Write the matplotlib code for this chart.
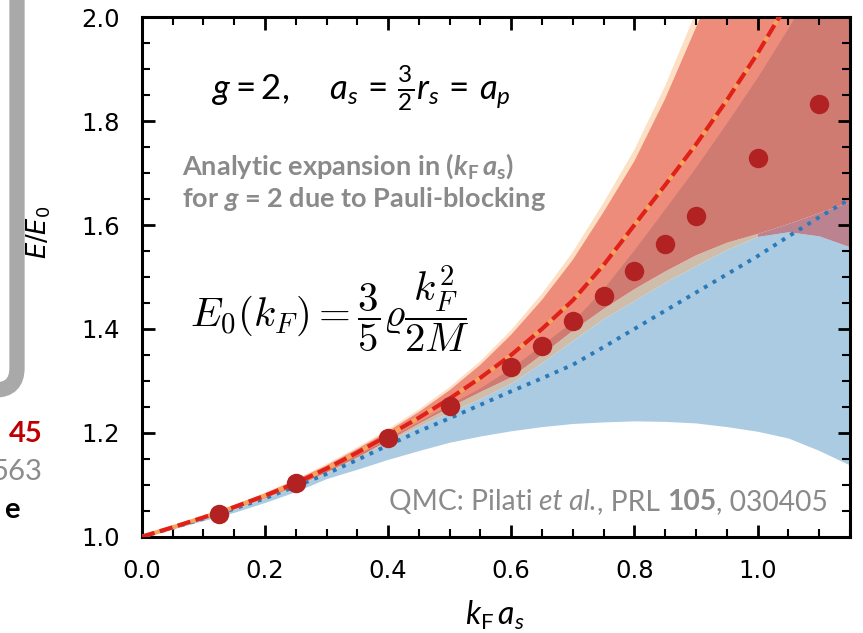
import numpy as np
import matplotlib
matplotlib.use('Agg')
import matplotlib.pyplot as plt
from matplotlib.patches import FancyBboxPatch
from matplotlib.transforms import IdentityTransform
from matplotlib.ticker import MultipleLocator

plt.rcParams['mathtext.fontset'] = 'custom'
plt.rcParams['mathtext.rm'] = 'Lato'
plt.rcParams['mathtext.it'] = 'Lato:italic'
plt.rcParams['mathtext.bf'] = 'Lato:bold'
plt.rcParams['mathtext.bfit'] = 'Lato:italic:bold'

kfa = [0.00, 0.05, 0.10, 0.15, 0.20, 0.25, 0.30, 0.35, 0.40, 0.45, 0.50, 0.55,
       0.60, 0.65, 0.70, 0.75, 0.80, 0.85, 0.90, 0.95, 1.00, 1.05, 1.10, 1.15]

# analytic expansion (central dashed curve)
e_central = [1.000, 1.018, 1.037, 1.057, 1.079, 1.103, 1.131, 1.162, 1.195, 1.229, 1.266, 1.306,
             1.350, 1.400, 1.455, 1.523, 1.600, 1.677, 1.755, 1.840, 1.930, 2.030, 2.130, 2.240]
# orange band upper edge
e_orange_hi = [1.000, 1.019, 1.039, 1.061, 1.085, 1.111, 1.140, 1.172, 1.207, 1.245, 1.288, 1.338,
               1.398, 1.468, 1.548, 1.643, 1.745, 1.868, 2.010, 2.160, 2.320, 2.480, 2.640, 2.800]
# red band upper edge
e_red_hi = [1.000, 1.019, 1.038, 1.060, 1.083, 1.109, 1.137, 1.169, 1.203, 1.240, 1.282, 1.331,
            1.389, 1.456, 1.533, 1.625, 1.723, 1.843, 1.980, 2.120, 2.280, 2.440, 2.600, 2.760]
# second red band upper edge
e_red2_hi = [1.000, 1.017, 1.036, 1.056, 1.077, 1.101, 1.128, 1.158, 1.190, 1.222, 1.255, 1.287,
             1.325, 1.370, 1.415, 1.478, 1.553, 1.632, 1.712, 1.797, 1.885, 1.980, 2.080, 2.180]
# lower edge of the red bands
e_red_lo = [1.000, 1.016, 1.035, 1.054, 1.075, 1.098, 1.125, 1.154, 1.186, 1.219, 1.250, 1.280,
            1.308, 1.352, 1.398, 1.440, 1.478, 1.512, 1.543, 1.567, 1.584, 1.603, 1.624, 1.645]
# blue band (Pade) edges and central dotted curve
e_blue_hi = [1.000, 1.016, 1.035, 1.053, 1.074, 1.097, 1.123, 1.152, 1.183, 1.213, 1.240, 1.266,
             1.296, 1.335, 1.378, 1.420, 1.455, 1.490, 1.522, 1.553, 1.578, 1.587, 1.579, 1.558]
e_blue_lo = [1.000, 1.015, 1.031, 1.047, 1.066, 1.087, 1.112, 1.130, 1.149, 1.166, 1.182, 1.194,
             1.204, 1.212, 1.218, 1.221, 1.223, 1.222, 1.219, 1.212, 1.203, 1.190, 1.166, 1.138]
e_blue_mid = [1.000, 1.017, 1.035, 1.054, 1.074, 1.097, 1.121, 1.148, 1.176, 1.203, 1.228, 1.254,
              1.280, 1.305, 1.331, 1.365, 1.400, 1.435, 1.470, 1.505, 1.540, 1.578, 1.615, 1.650]

# QMC hard-sphere data (Pilati et al.)
qmc_kfa = [0.125, 0.25, 0.4, 0.5, 0.6, 0.65, 0.7, 0.75, 0.8, 0.85, 0.9, 1.0, 1.1]
qmc_e = [1.044, 1.103, 1.190, 1.251, 1.326, 1.368, 1.415, 1.463, 1.511, 1.564, 1.618, 1.729, 1.832]

# citation pieces: (text, style, weight, gap before in points)
cite_parts = [('QMC: Pilati', 'normal', 'normal', 0),
              ('et al.', 'italic', 'normal', 5),
              (', PRL', 'normal', 'normal', 0),
              ('105', 'normal', 'bold', 5),
              (', 030405', 'normal', 'normal', 0)]

x = np.array(kfa)
fig = plt.figure(figsize=(8.63, 6.33), dpi=100)
ax = fig.add_axes([0.1643, 0.1521, 0.8205, 0.8207])

ax.fill_between(x, e_blue_lo, e_blue_hi, color='#aacbe2', lw=0, zorder=1)
ax.fill_between(x, e_blue_hi, e_red_lo, where=x <= 1.0, interpolate=True,
                color='#cfbdab', lw=0, zorder=1.1)
ax.fill_between(x, e_blue_hi, e_red_lo, where=x >= 1.0, interpolate=True,
                color='#bb8290', lw=0, zorder=1.1)
ax.fill_between(x, e_red_lo, e_orange_hi, color='#fde0c4', lw=0, zorder=1.2)
ax.fill_between(x, e_red_lo, e_red_hi, color='#ee8c7c', lw=0, zorder=1.3)
ax.fill_between(x, e_red_lo, e_red2_hi, color='#cf7b72', lw=0, zorder=1.4)

ax.plot(x, e_blue_mid, color='#2a7ab9', lw=2.8, linestyle=(0, (1, 1.6)), zorder=3)
ax.plot(x, e_central, color='#f7a35c', lw=3, zorder=3)
ax.plot(x, e_central, color='#e0201b', lw=3, linestyle=(0, (3.2, 1.3)), zorder=3.1)
ax.plot(qmc_kfa, qmc_e, 'o', color='#b22222', ms=14, mew=0, zorder=4)

ax.set_xlim(0, 1.15)
ax.set_ylim(1.0, 2.0)
ax.xaxis.set_major_locator(MultipleLocator(0.2))
ax.xaxis.set_minor_locator(MultipleLocator(0.05))
ax.yaxis.set_major_locator(MultipleLocator(0.2))
ax.yaxis.set_minor_locator(MultipleLocator(0.05))
ax.tick_params(which='both', direction='in', top=True, right=True, labelsize=17.5)
ax.tick_params(which='major', length=9, width=2, pad=16)
ax.tick_params(which='minor', length=5.5, width=1.5)
for s in ax.spines.values():
    s.set_linewidth(2.2)

ax.set_ylabel(r'$E/E_0$', fontsize=18.5, math_fontfamily='dejavusans')
ax.yaxis.set_label_coords(-0.1254, 0.585)
ax.set_xlabel(r'$k_\mathrm{F}\,a_s$', fontsize=23, va='top')
ax.xaxis.set_label_coords(0.499, -0.12)

ax.text(0.0987, 0.863, r'$g = 2, \quad\; a_s\, =\, \frac{3}{2}r_s\, =\, a_p$',
        transform=ax.transAxes, fontsize=25, ha='left', va='center')
ax.text(0.0564, 0.6825,
        'Analytic expansion in ($\\mathbfit{k}_\\mathbf{F}\\,\\mathbfit{a}_\\mathbf{s}$)\n'
        'for $\\mathbfit{g}$ = 2 due to Pauli-blocking',
        transform=ax.transAxes, fontsize=19.5, family='Lato', weight='bold',
        color='#8a8a8a', ha='left', va='center', linespacing=1.15)
ax.text(0.068, 0.436, r'$E_0(k_F) = \dfrac{3}{5}\varrho\dfrac{k_F^2}{2M}$',
        transform=ax.transAxes, fontsize=29.5, math_fontfamily='cm',
        ha='left', va='center')

# citation written piece by piece so the italic / bold parts sit inline
prev = None
for txt, style, weight, gap in cite_parts:
    kw = dict(fontsize=20.3, family='Lato', color='#8a8a8a', style=style,
              weight=weight, ha='left', va='bottom', zorder=5)
    if prev is None:
        prev = ax.text(0.349, 0.042, txt, transform=ax.transAxes, **kw)
    else:
        prev = ax.annotate(txt, xy=(1, 0), xycoords=prev, xytext=(gap, 0),
                           textcoords='offset points', **kw)

# pieces of the neighbouring slide content at the left edge
box = FancyBboxPatch((-300, 633 - 390), 317, 800,
                     boxstyle='round,pad=0,rounding_size=22',
                     transform=IdentityTransform(), ec='#a9a9a9', fc='none', lw=11)
fig.add_artist(box)
fig.text(43 / 863, (633 - 442) / 633, '45', fontsize=21, family='Lato',
         weight='bold', color='#c00000', ha='right', va='baseline')
fig.text(42 / 863, (633 - 480) / 633, '563', fontsize=21, family='Lato',
         color='#8c8c8c', ha='right', va='baseline')
fig.text(20 / 863, (633 - 518) / 633, 'e', fontsize=21, family='Lato',
         weight='bold', color='black', ha='right', va='baseline')

fig.savefig('out.png', dpi=100)
